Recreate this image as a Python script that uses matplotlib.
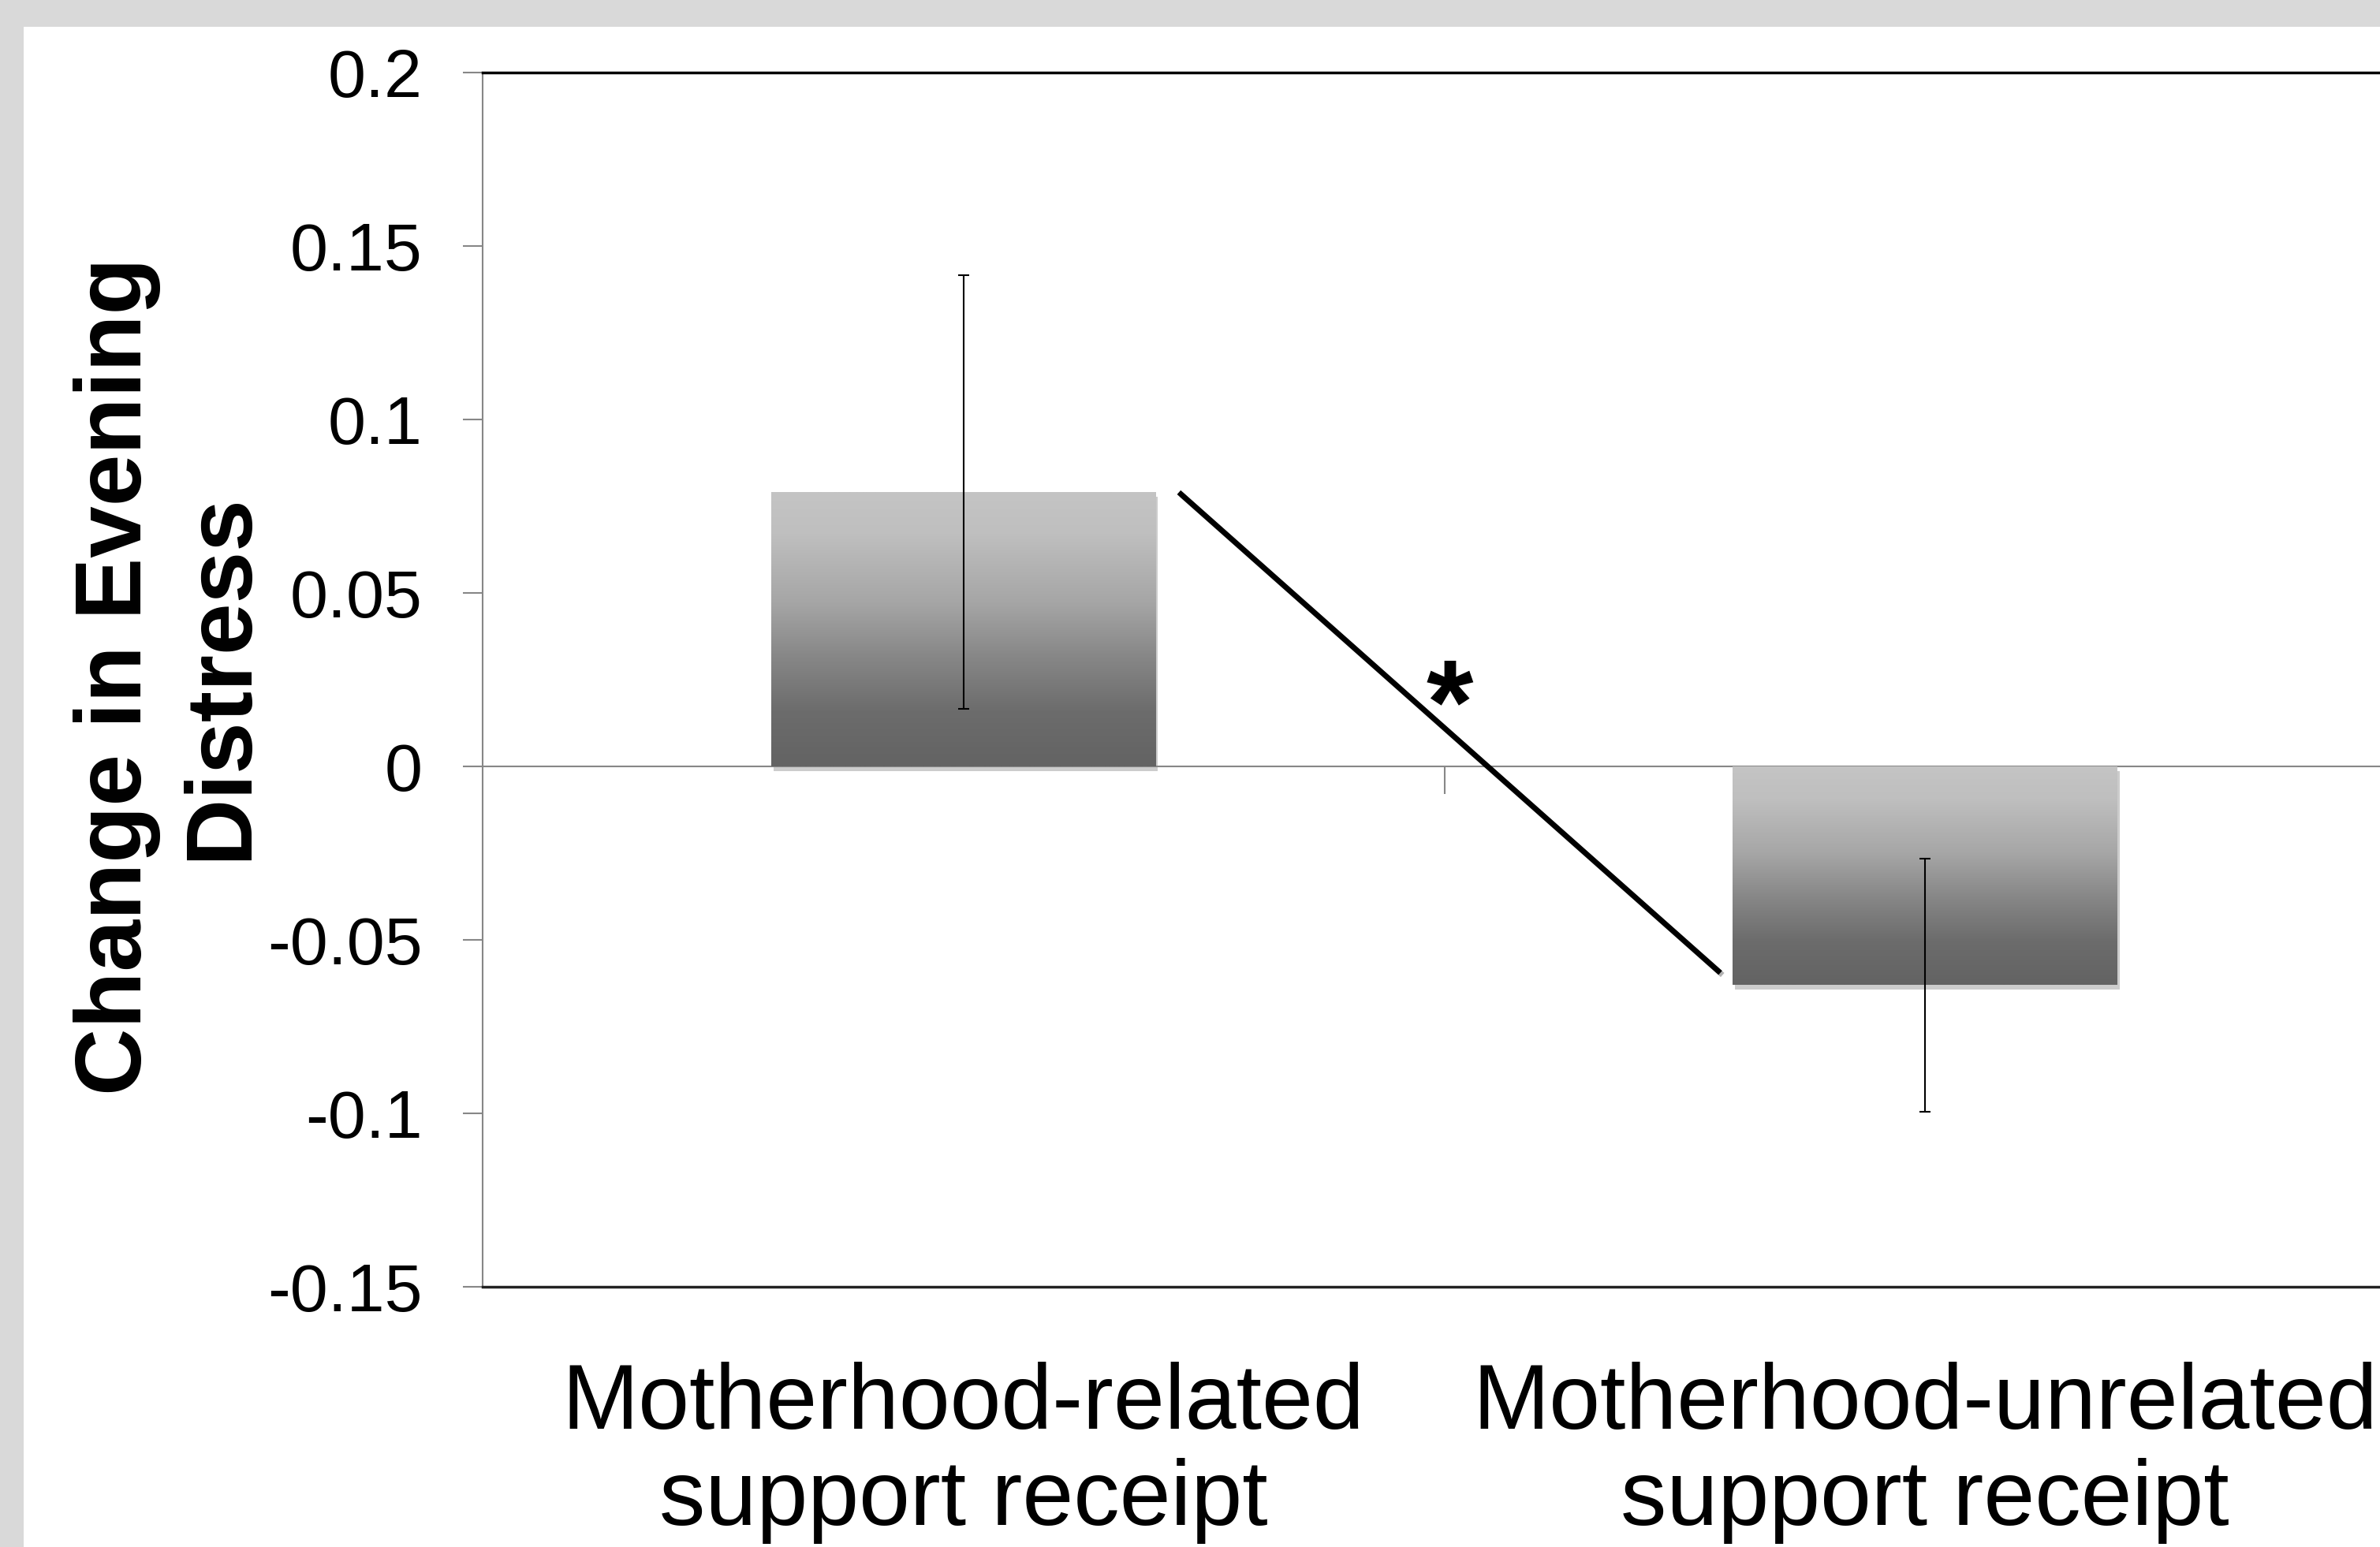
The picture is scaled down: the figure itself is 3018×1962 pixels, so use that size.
import numpy as np
import matplotlib
matplotlib.use('Agg')
import matplotlib.pyplot as plt
import matplotlib.patheffects as pe
from matplotlib.patches import Rectangle
from matplotlib.colors import LinearSegmentedColormap

plt.rcParams['font.family'] = ['Liberation Sans', 'DejaVu Sans']
plt.rcParams['axes.unicode_minus'] = False

# du lieu doc tu hinh
groups = ['Motherhood-related\nsupport receipt', 'Motherhood-unrelated\nsupport receipt']
means = [0.079, -0.063]
errs = [0.0625, 0.0365]
y_ticks = [-0.15, -0.1, -0.05, 0, 0.05, 0.1, 0.15, 0.2]
y_ticklabels = ['-0.15', '-0.1', '-0.05', '0', '0.05', '0.1', '0.15', '0.2']
y_title = 'Change in Evening\nDistress'
sig_mark = '*'

W, H = 3018, 1962
fig = plt.figure(figsize=(W / 100, H / 100), dpi=100)
fig.patch.set_facecolor('#d9d9d9')
fig.add_artist(Rectangle((30 / W, 0), 1, 1 - 34 / H, transform=fig.transFigure,
                         facecolor='white', edgecolor='none', zorder=-5))

ax = fig.add_axes([612 / W, 1 - 1632 / H, (3051 - 612) / W, (1632 - 92) / H])
ax.set_facecolor('white')

x = np.arange(len(groups))
bar_w = 0.4

# mau chuyen sac cho cot: sang o tren, toi o duoi
grad_cmap = LinearSegmentedColormap.from_list(
    'bar_grad',
    [(0.0, '#c4c4c4'), (0.15, '#bfbfbf'), (0.4, '#a6a6a6'),
     (0.6, '#878787'), (0.8, '#6c6c6c'), (1.0, '#636363')])
grad = np.linspace(0, 1, 256).reshape(-1, 1)

bars = ax.bar(x, means, width=bar_w, color='#999999', zorder=2)
for b in bars:
    b.set_path_effects([pe.SimplePatchShadow(offset=(2, -4), shadow_rgbFace='k', alpha=0.2),
                        pe.Normal()])
    x0, x1 = b.get_x(), b.get_x() + b.get_width()
    y0, y1 = sorted([b.get_y(), b.get_y() + b.get_height()])
    im = ax.imshow(grad, cmap=grad_cmap, extent=[x0, x1, y0, y1], origin='upper',
                   aspect='auto', zorder=3)
    im.set_clip_path(b)

ax.errorbar(x, means, yerr=errs, fmt='none', ecolor='black', elinewidth=1.5,
            capsize=5, capthick=1.5, zorder=4)

# duong noi giua hai cot va dau sao
lx = [x[0] + bar_w / 2 + 0.024, x[1] - bar_w / 2 - 0.013]
ly = [means[0], means[1] + 0.0035]
ax.plot(lx, ly, color='black', lw=5, solid_capstyle='butt', zorder=5,
        path_effects=[pe.SimpleLineShadow(offset=(2, -2), alpha=0.3), pe.Normal()])
ax.text((x[0] + x[1]) / 2 + 0.006, 0.0068, sig_mark, fontsize=110, fontweight='bold',
        ha='center', va='baseline', zorder=6)

ax.set_xlim(-0.5, 1.5)
ax.set_ylim(-0.15, 0.2)

ax.spines['right'].set_visible(False)
ax.spines['top'].set_color('black')
ax.spines['top'].set_linewidth(2.5)
ax.spines['left'].set_color('#878787')
ax.spines['left'].set_linewidth(1.5)
ax.spines['bottom'].set_position(('data', 0))
ax.spines['bottom'].set_color('#878787')
ax.spines['bottom'].set_linewidth(1.5)
ax.axhline(-0.15, color='#222222', lw=2.5, clip_on=False, zorder=6)

ax.set_yticks(y_ticks, y_ticklabels)
ax.tick_params(axis='y', length=18, width=1.5, color='#878787', pad=37, labelsize=62)
ax.set_xticks([0.5], [''])
ax.tick_params(axis='x', length=25, width=1.5, color='#878787', direction='out')

for i, g in enumerate(groups):
    ax.text(x[i], -0.062, g, transform=ax.get_xaxis_transform(), ha='center', va='top',
            multialignment='center', fontsize=84, linespacing=1.15)

fig.text(215 / W, 1 - 858 / H, y_title, rotation=90, ha='center', va='center',
         multialignment='center', fontsize=85, fontweight='bold', linespacing=1.26)

fig.savefig('out.png', dpi=100, facecolor=fig.get_facecolor())
